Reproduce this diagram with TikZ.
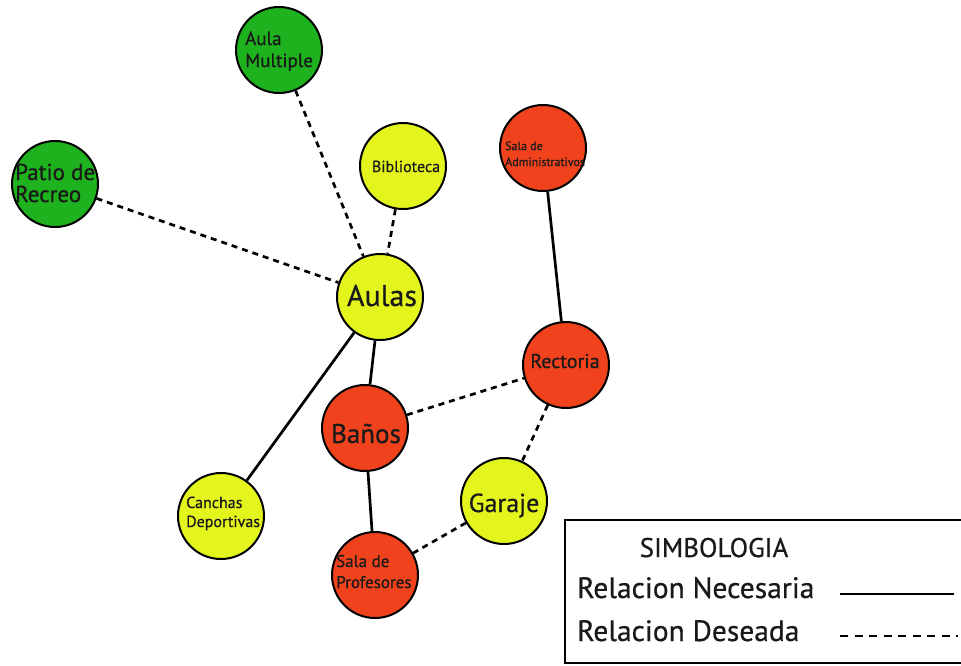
\documentclass[tikz,border=0pt]{standalone}
\usepackage{fontspec}
\setmainfont[FakeBold=0.6]{PT Sans}
\definecolor{cgreen}{RGB}{30,178,30}
\definecolor{cyellow}{RGB}{228,245,30}
\definecolor{cred}{RGB}{240,66,28}
\tikzset{
  room/.style={circle, draw=black, line width=2pt, minimum size=86pt, inner sep=0pt},
  green/.style={room, fill=cgreen},
  yellow/.style={room, fill=cyellow},
  red/.style={room, fill=cred},
  lbl/.style={inner sep=0pt, text=black!90, align=left},
  need/.style={line width=2.7pt, black},
  want/.style={line width=2.7pt, black, dash pattern=on 6pt off 5pt},
}
\begin{document}
\begin{tikzpicture}[x=1pt, y=-1pt]
\useasboundingbox (0,0) rectangle (961,665);
% rooms
\node[green]  (am) at (279,50)  {};
\node[green]  (pr) at (55,184)  {};
\node[yellow] (bi) at (403,166) {};
\node[red]    (sa) at (543,148) {};
\node[yellow] (au) at (380,297) {};
\node[red]    (re) at (566,365) {};
\node[red]    (ba) at (365,428) {};
\node[yellow] (ga) at (504,501) {};
\node[yellow] (ca) at (221,516) {};
\node[red]    (sp) at (375,575) {};
% connectors
\draw[want] (am) -- (au);
\draw[want] (pr) -- (au);
\draw[want] (bi) -- (au);
\draw[need] (sa) -- (re);
\draw[need] (au) -- (ca);
\draw[need] (au) -- (ba);
\draw[want] (ba) -- (re);
\draw[want] (re) -- (ga);
\draw[need] (ba) -- (sp);
\draw[want] (ga) -- (sp);
% labels
\node[lbl, anchor=base west] (tam1) at (245,45) {\fontsize{19}{22}\selectfont Aula};
\node[lbl, anchor=base west] (tam2) at (245,67) {\fontsize{19}{22}\selectfont Multiple};
\node[lbl, anchor=base west] (tpr1) at (15,180) {\fontsize{23}{26}\selectfont Patio de};
\node[lbl, anchor=base west] (tpr2) at (15,202) {\fontsize{23}{26}\selectfont Recreo};
\node[lbl, anchor=base] (tbi) at (406,172) {\fontsize{16}{18}\selectfont Biblioteca};
\node[lbl, anchor=base west] (tsa1) at (505,150) {\fontsize{12}{14}\selectfont Sala de};
\node[lbl, anchor=base west] (tsa2) at (505,166) {\fontsize{12}{14}\selectfont Administrativos};
\node[lbl, anchor=base] (tau) at (382,306) {\fontsize{30}{32}\selectfont Aulas};
\node[lbl, anchor=base] (tre) at (565,368) {\fontsize{20}{24}\selectfont Rectoria};
\node[lbl, anchor=base] (tba) at (366,443) {\fontsize{27}{30}\selectfont Baños};
\node[lbl, anchor=base] (tga) at (504,512) {\fontsize{26}{30}\selectfont Garaje};
\node[lbl, anchor=base west] (tca1) at (186,508) {\fontsize{16}{18}\selectfont Canchas};
\node[lbl, anchor=base west] (tca2) at (186,527) {\fontsize{16}{18}\selectfont Deportivas};
\node[lbl, anchor=base west] (tsp1) at (336,567) {\fontsize{17}{20}\selectfont Sala de};
\node[lbl, anchor=base west] (tsp2) at (336,588) {\fontsize{17}{20}\selectfont Profesores};
% legend
\draw[line width=2.4pt] (990,520) -- (565,520) -- (565,663) -- (990,663);
\node[lbl, anchor=base] (lt) at (714,557) {\fontsize{27}{30}\selectfont SIMBOLOGIA};
\node[lbl, anchor=base west] (ln) at (577,598) {\fontsize{29.5}{32}\selectfont Relacion Necesaria};
\node[lbl, anchor=base west] (ld) at (577,641) {\fontsize{29.5}{32}\selectfont Relacion Deseada};
\coordinate (n1) at (840,594);
\coordinate (n2) at (954,594);
\coordinate (d1) at (840,636);
\coordinate (d2) at (958,636);
\draw[line width=2.4pt] (n1) -- (n2);
\draw[line width=2.4pt, dash pattern=on 8pt off 6.5pt] (d1) -- (d2);
\end{tikzpicture}
\end{document}
